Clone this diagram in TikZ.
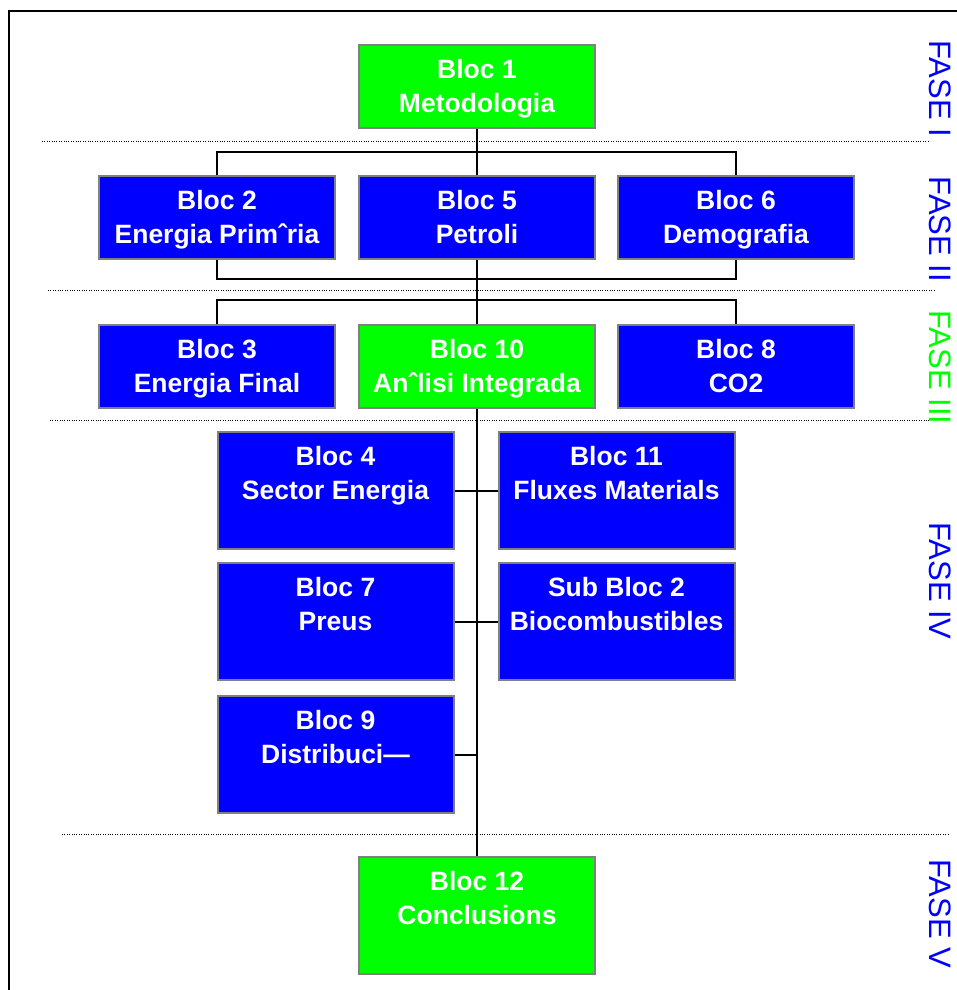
\documentclass[tikz,border=0pt]{standalone}
\usepackage{fontspec}
\setmainfont{Liberation Sans}
\definecolor{blaubloc}{RGB}{0,0,255}
\definecolor{verdbloc}{RGB}{0,255,0}
\definecolor{vorabloc}{RGB}{128,128,128}

\begin{document}
\begin{tikzpicture}[x=1pt, y=-1pt,
    bloc/.style={draw=vorabloc, line width=2pt, fill=blaubloc, text=white, align=center,
        font=\fontsize{26.5}{34}\selectfont\bfseries, text depth=2pt,
        minimum width=236pt, minimum height=83pt, inner sep=0pt},
    clau/.style={bloc, fill=verdbloc},
    alt/.style={minimum height=117pt, text depth=35pt},
    fase/.style={text=blaubloc, rotate=-90, font=\fontsize{31}{31}\selectfont},
    linia/.style={line width=2pt},
    separador/.style={line width=0.8pt, dash pattern=on 0.8pt off 1.6pt}]
    \useasboundingbox (0,0) rectangle (957,990);

    % marc
    \draw[line width=2pt] (9,992) |- (960,11);

    % separadors de fase
    \draw[separador] (42,141) -- (928,141);
    \draw[separador] (48,290) -- (935,290);
    \draw[separador] (50,420) -- (930,420);
    \draw[separador] (62,834) -- (948,834);

    \node[fase] at (940,89)    (fasei)   {FASE I};
    \node[fase] at (940,229.5) (faseii)  {FASE II};
    \node[fase, text=verdbloc] at (940,367.5) (faseiii) {FASE III};
    \node[fase] at (940,581)   (faseiv)  {FASE IV};
    \node[fase] at (940,914)   (fasev)   {FASE V};

    \coordinate (busa) at (477,152);
    \coordinate (busb) at (477,279);
    \coordinate (busc) at (477,300);

    % connectors
    \draw[linia] (477,127) -- (477,858);
    \draw[linia] (217,176) |- (busa) -| (736,176);
    \draw[linia] (217,259) |- (busb) -| (736,259);
    \draw[linia] (217,325) |- (busc) -| (736,325);

    \node[clau] at (477,86.5)  (bloc1)  {Bloc 1\\Metodologia};
    \node[bloc] at (217,217.5) (bloc2)  {Bloc 2\\Energia Primˆria};
    \node[bloc] at (477,217.5) (bloc5)  {Bloc 5\\Petroli};
    \node[bloc] at (736,217.5) (bloc6)  {Bloc 6\\Demografia};
    \node[bloc] at (217,366.5) (bloc3)  {Bloc 3\\Energia Final};
    \node[clau] at (477,366.5) (bloc10) {Bloc 10\\Anˆlisi Integrada};
    \node[bloc] at (736,366.5) (bloc8)  {Bloc 8\\CO2};
    \node[bloc, alt] at (335.5,490.5) (bloc4)    {Bloc 4\\Sector Energia};
    \node[bloc, alt] at (616.5,490.5) (bloc11)   {Bloc 11\\Fluxes Materials};
    \node[bloc, alt] at (335.5,621.5) (bloc7)    {Bloc 7\\Preus};
    \node[bloc, alt] at (616.5,621.5) (subbloc2) {Sub Bloc 2\\Biocombustibles};
    \node[bloc, alt] at (335.5,754.5) (bloc9)    {Bloc 9\\Distribuci—};
    \node[clau, alt] at (477,915.5)   (bloc12)   {Bloc 12\\Conclusions};

    \draw[linia] (bloc4) -- (bloc11);
    \draw[linia] (bloc7) -- (subbloc2);
    \draw[linia] (bloc9.east) -- (bloc9.east -| bloc10.south);
\end{tikzpicture}
\end{document}
